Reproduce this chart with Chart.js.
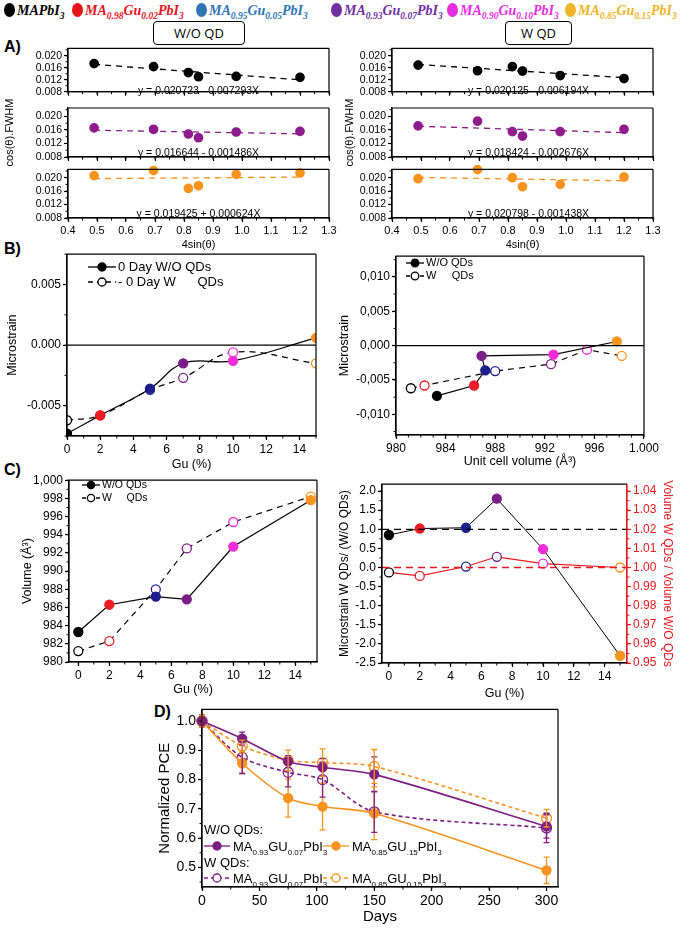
<!DOCTYPE html>
<html>
<head>
<meta charset="utf-8">
<script src="https://cdn.jsdelivr.net/npm/chart.js@4.4.0/dist/chart.umd.min.js"></script>
<style>
body { margin: 0; background: #fff; }
#page { position: relative; width: 685px; height: 929px; overflow: hidden; background: #fff; }
.lab { position: absolute; font: bold 16px 'Liberation Sans', Arial, sans-serif; line-height: 18px; }
.qd { position: absolute; border: 1.5px solid #000; border-radius: 4px; font: 13px 'Open Sans', sans-serif; text-align: center; line-height: 22px; }
.key { position: absolute; top: 3px; font: bold italic 14px 'Liberation Serif', serif; white-space: nowrap; }
.key i { display: inline-block; width: 11px; height: 14px; border-radius: 50%; vertical-align: -2px; margin-right: 2px; }
.key sub { font-size: 9.5px; }
</style>
</head>
<body>
<div id="page">
  <div class="key" style="left:4px;color:#000"><i style="background:#000"></i>MAPbI<sub>3</sub></div>
  <div class="key" style="left:72px;color:#e8141c"><i style="background:#e8141c"></i>MA<sub>0.98</sub>Gu<sub>0.02</sub>PbI<sub>3</sub></div>
  <div class="key" style="left:196px;color:#2e75b6"><i style="background:#2e75b6"></i>MA<sub>0.95</sub>Gu<sub>0.05</sub>PbI<sub>3</sub></div>
  <div class="key" style="left:331px;color:#7030a0"><i style="background:#7030a0"></i>MA<sub>0.93</sub>Gu<sub>0.07</sub>PbI<sub>3</sub></div>
  <div class="key" style="left:447px;color:#e62ee0"><i style="background:#e62ee0"></i>MA<sub>0.90</sub>Gu<sub>0.10</sub>PbI<sub>3</sub></div>
  <div class="key" style="left:565px;color:#f0b429"><i style="background:#f0b429"></i>MA<sub>0.85</sub>Gu<sub>0.15</sub>PbI<sub>3</sub></div>
  <div class="qd" style="left:153px;top:21px;width:90px;height:22px">W/O QD</div>
  <div class="qd" style="left:505px;top:21px;width:65px;height:22px">W QD</div>
  <div class="lab" style="left:4px;top:38px">A)</div>
  <div class="lab" style="left:4px;top:240px">B)</div>
  <div class="lab" style="left:4px;top:461px">C)</div>
  <div class="lab" style="left:154px;top:703px">D)</div>
</div>
<script>
// composition (Gu %) and the colour used for each sample
const gu = [0, 2, 5, 7, 10, 15];
const guColors = ['#000000', '#ec1c24', '#1c1f8a', '#7b1e87', '#f22bd9', '#f7941d'];

// A) Williamson-Hall plots
const whX = [0.49, 0.695, 0.815, 0.85, 0.98, 1.2];
const whWoMAPbI = [0.0174, 0.0164, 0.0144, 0.0130, 0.0131, 0.0128];
const whWoGu07 = [0.0166, 0.0162, 0.0148, 0.0137, 0.0154, 0.0156];
const whWoGu15 = [0.0206, 0.0221, 0.0168, 0.0176, 0.0210, 0.0214];
const whWMAPbI = [0.0169, 0.0150, 0.0164, 0.0149, 0.0134, 0.0124];
const whWGu07 = [0.0172, 0.0186, 0.0155, 0.0142, 0.0155, 0.0162];
const whWGu15 = [0.0197, 0.0224, 0.0200, 0.0173, 0.0180, 0.0202];
const fitX = [0.49, 1.2];
const fitWoMAPbI = [0.01715, 0.01197];
const fitWoGu07 = [0.01592, 0.01486];
const fitWoGu15 = [0.01973, 0.02017];
const fitWMAPbI = [0.01709, 0.01269];
const fitWGu07 = [0.01711, 0.01521];
const fitWGu15 = [0.02009, 0.01907];
const eqWo = ['y = 0.020723 - 0.007293X', 'y = 0.016644 - 0.001486X', 'y = 0.019425 + 0.000624X'];
const eqW = ['y = 0.020125 - 0.006194X', 'y = 0.018424 - 0.002676X', 'y = 0.020798 - 0.001438X'];
const whYTicks = [0.008, 0.012, 0.016, 0.020];
const whYLabels = ['0.008', '0.012', '0.016', '0.020'];
const whXTicks = [0.4, 0.5, 0.6, 0.7, 0.8, 0.9, 1.0, 1.1, 1.2, 1.3];
const whXLabels = ['0.4', '0.5', '0.6', '0.7', '0.8', '0.9', '1.0', '1.1', '1.2', '1.3'];

// B) microstrain and C) unit cell volume
const strainWo = [-0.0073, -0.0058, -0.0036, -0.0015, -0.0013, 0.0006];
const strainW = [-0.0062, -0.0058, -0.0037, -0.0027, -0.0006, -0.0015];
const volumeWo = [983.3, 986.3, 987.2, 986.9, 992.7, 997.8];
const volumeW = [981.2, 982.3, 988.0, 992.5, 995.4, 998.2];
const strainRatio = [0.85, 1.02, 1.04, 1.80, 0.48, -2.31];
const volumeRatio = [0.9974, 0.9956, 1.0005, 1.0056, 1.0020, 1.0000];
const guTicks = [0, 2, 4, 6, 8, 10, 12, 14];
const guLabels = ['0', '2', '4', '6', '8', '10', '12', '14'];
const bStrainTicks = [-0.005, 0, 0.005];
const bStrainLabels = ['-0.005', '0.000', '0.005'];
const bVolTicks = [980, 984, 988, 992, 996, 1000];
const bVolLabels = ['980', '984', '988', '992', '996', '1.000'];
const bStrain2Ticks = [-0.010, -0.005, 0, 0.005, 0.010];
const bStrain2Labels = ['-0,010', '-0,005', '0,000', '0,005', '0,010'];
const cVolTicks = [980, 982, 984, 986, 988, 990, 992, 994, 996, 998, 1000];
const cVolLabels = ['980', '982', '984', '986', '988', '990', '992', '994', '996', '998', '1,000'];
const cRatioTicks = [-2.5, -2.0, -1.5, -1.0, -0.5, 0, 0.5, 1.0, 1.5, 2.0];
const cRatioLabels = ['-2.5', '-2.0', '-1.5', '-1.0', '-0.5', '0.0', '0.5', '1.0', '1.5', '2.0'];
const cVRatioTicks = [0.95, 0.96, 0.97, 0.98, 0.99, 1.00, 1.01, 1.02, 1.03, 1.04];
const cVRatioLabels = ['0.95', '0.96', '0.97', '0.98', '0.99', '1.00', '1.01', '1.02', '1.03', '1.04'];

// D) stability
const days = [0, 35, 75, 105, 150, 300];
const pceWoGu07 = [1.0, 0.94, 0.862, 0.842, 0.818, 0.640];
const pceWoGu07Err = [0.02, 0.022, 0.02, 0.03, 0.06, 0.04];
const pceWoGu15 = [1.0, 0.856, 0.737, 0.708, 0.685, 0.490];
const pceWoGu15Err = [0.02, 0.035, 0.065, 0.08, 0.09, 0.045];
const pceWGu07 = [1.0, 0.876, 0.825, 0.800, 0.690, 0.635];
const pceWGu07Err = [0.02, 0.055, 0.05, 0.06, 0.07, 0.05];
const pceWGu15 = [1.0, 0.915, 0.866, 0.858, 0.845, 0.668];
const pceWGu15Err = [0.02, 0.02, 0.035, 0.047, 0.058, 0.03];
const dayTicks = [0, 50, 100, 150, 200, 250, 300];
const dayLabels = ['0', '50', '100', '150', '200', '250', '300'];
const pceTicks = [0.5, 0.6, 0.7, 0.8, 0.9, 1.0];
const pceLabels = ['0.5', '0.6', '0.7', '0.8', '0.9', '1.0'];

const FONT = "'Liberation Sans', Arial, sans-serif";
const RED = '#e8191e';
const page = document.getElementById('page');

function pts(xs, ys) {
    return xs.map((x, i) => ({ x: x, y: ys[i] }));
}

function axis(o) {
    const col = o.color || '#000';
    return {
        type: 'linear', position: o.pos, min: o.min, max: o.max, bounds: 'data',
        afterBuildTicks: s => { s.ticks = o.ticks.map(v => ({ value: v })); },
        afterFit: s => { if (o.pos === 'bottom') s.height = o.fit; else s.width = o.fit; },
        ticks: {
            display: !!o.labels, autoSkip: false, maxRotation: 0, padding: 2, color: col,
            font: { family: FONT, size: o.size || 11 },
            callback: (v, i) => o.labels ? o.labels[i] : ''
        },
        grid: { drawOnChartArea: false, drawTicks: true, tickLength: 4, color: col, tickColor: col, tickWidth: 1.2 },
        border: { display: true, color: col, width: 1.2 },
        title: {
            display: !!o.title, text: o.title || '', color: col, padding: 0,
            font: { family: FONT, size: o.titleSize || 12 }
        }
    };
}

function series(xs, ys, o) {
    return {
        data: pts(xs, ys), yAxisID: o.axis || 'y',
        borderColor: o.line || '#000', borderWidth: o.lw || 1.2, borderDash: o.dash || [],
        tension: o.tension || 0, showLine: o.showLine !== false,
        pointRadius: o.r === undefined ? 4 : o.r, pointBorderWidth: o.pbw || 1.3,
        pointBackgroundColor: o.hollow ? (o.hollowFill || '#fff') : o.colors,
        pointBorderColor: o.colors || o.line, errors: o.errors,
        clip: o.clip === undefined ? 8 : o.clip
    };
}

function drawRich(ctx, x, y, parts, size, color) {
    ctx.fillStyle = color || '#000';
    ctx.textAlign = 'left';
    ctx.textBaseline = 'alphabetic';
    parts.forEach(p => {
        const s = p[1] ? size * 0.62 : size;
        ctx.font = s + 'px ' + FONT;
        ctx.fillText(p[0], x, p[1] ? y + size * 0.3 : y);
        x += ctx.measureText(p[0]).width;
    });
}

function drawKey(ctx, x1, x2, y, color, dash, hollow, r) {
    ctx.save();
    ctx.strokeStyle = color;
    ctx.lineWidth = 1.3;
    ctx.setLineDash(dash || []);
    ctx.beginPath(); ctx.moveTo(x1, y); ctx.lineTo(x2, y); ctx.stroke();
    ctx.setLineDash([]);
    ctx.beginPath(); ctx.arc((x1 + x2) / 2, y, r, 0, Math.PI * 2);
    ctx.fillStyle = hollow ? '#fff' : color;
    ctx.fill(); ctx.stroke();
    ctx.restore();
}

function makeChart(plot, m, datasets, scales, minor, draw) {
    const pb = m.pb || 0;
    const ox = plot[0] - m.l, oy = plot[1] - m.t;
    const w = plot[2] - plot[0] + m.l + m.r, h = plot[3] - plot[1] + m.t + m.b + pb;
    const cv = document.createElement('canvas');
    cv.width = w; cv.height = h;
    cv.style.cssText = 'position:absolute;left:' + ox + 'px;top:' + oy + 'px;width:' + w + 'px;height:' + h + 'px';
    page.appendChild(cv);
    const hasY2 = !!scales.y2;
    return new Chart(cv, {
        type: 'line',
        data: { datasets: datasets },
        options: {
            responsive: false, animation: false, devicePixelRatio: 1,
            layout: { padding: { top: m.t, right: hasY2 ? 0 : m.r, bottom: pb, left: 0 } },
            plugins: { legend: { display: false }, tooltip: { enabled: false } },
            scales: scales
        },
        plugins: [{
            id: 'frameAndBars',
            afterDatasetsDraw(ch) {
                const ctx = ch.ctx;
                ch.data.datasets.forEach((ds, i) => {
                    if (!ds.errors) return;
                    const meta = ch.getDatasetMeta(i);
                    const ys = ch.scales[ds.yAxisID];
                    ctx.save();
                    ctx.strokeStyle = ds.borderColor;
                    ctx.lineWidth = 1.3;
                    meta.data.forEach((pt, j) => {
                        const v = ds.data[j].y, e = ds.errors[j];
                        const t = ys.getPixelForValue(v + e), b = ys.getPixelForValue(v - e);
                        ctx.beginPath();
                        ctx.moveTo(pt.x, t); ctx.lineTo(pt.x, b);
                        ctx.moveTo(pt.x - 3, t); ctx.lineTo(pt.x + 3, t);
                        ctx.moveTo(pt.x - 3, b); ctx.lineTo(pt.x + 3, b);
                        ctx.stroke();
                    });
                    ctx.restore();
                });
            },
            afterDraw(ch) {
                const ctx = ch.ctx, a = ch.chartArea;
                ctx.save();
                ctx.lineWidth = 1.2;
                ctx.strokeStyle = '#000';
                ctx.beginPath();
                ctx.moveTo(a.right, a.top); ctx.lineTo(a.left, a.top);
                ctx.lineTo(a.left, a.bottom); ctx.lineTo(a.right, a.bottom);
                if (!hasY2) ctx.lineTo(a.right, a.top);
                ctx.stroke();
                if (hasY2) {
                    ctx.strokeStyle = RED;
                    ctx.beginPath(); ctx.moveTo(a.right, a.top); ctx.lineTo(a.right, a.bottom); ctx.stroke();
                }
                // minor ticks
                const minorTicks = (scale, step, side, col) => {
                    if (!step) return;
                    ctx.strokeStyle = col;
                    ctx.lineWidth = 1;
                    ctx.beginPath();
                    for (let v = Math.ceil(scale.min / step - 1e-9) * step; v <= scale.max + 1e-9; v += step) {
                        const p = scale.getPixelForValue(v);
                        if (side === 'b') { ctx.moveTo(p, a.bottom); ctx.lineTo(p, a.bottom + 2.5); }
                        if (side === 'l') { ctx.moveTo(a.left, p); ctx.lineTo(a.left - 2.5, p); }
                        if (side === 'r') { ctx.moveTo(a.right, p); ctx.lineTo(a.right + 2.5, p); }
                    }
                    ctx.stroke();
                };
                minorTicks(ch.scales.x, minor.x, 'b', '#000');
                minorTicks(ch.scales.y, minor.y, 'l', '#000');
                if (hasY2) minorTicks(ch.scales.y2, minor.y2, 'r', RED);
                ctx.restore();
                if (draw) {
                    ctx.save();
                    ctx.translate(-ox, -oy);
                    draw(ctx, ch);
                    ctx.restore();
                }
            }
        }]
    });
}

// ---------- A) ----------
const aRows = [
    { wo: whWoMAPbI, w: whWMAPbI, fwo: fitWoMAPbI, fw: fitWMAPbI, col: '#000000', top: 48, bot: 95 },
    { wo: whWoGu07, w: whWGu07, fwo: fitWoGu07, fw: fitWGu07, col: '#8e1c8c', top: 108, bot: 157 },
    { wo: whWoGu15, w: whWGu15, fwo: fitWoGu15, fw: fitWGu15, col: '#f7941d', top: 169, bot: 218 }
];
aRows.forEach((row, i) => {
    const last = i === 2, mid = i === 1;
    [[68, 329, 65, row.wo, row.fwo, eqWo[i], 0], [392, 653, 49, row.w, row.fw, eqW[i], 6]].forEach(p => {
        const mt = mid ? 40 : 8;
        makeChart([p[0], row.top, p[1], row.bot], { t: mt, r: 16, b: last ? 34 : 5, l: p[2], pb: mid ? 36 : 0 }, [
            series(fitX, p[4], { line: row.col, dash: [6, 5], r: 0, lw: 1.3 }),
            series(whX, p[3], { showLine: false, colors: row.col, r: 4.2 })
        ], {
            x: axis({ pos: 'bottom', min: 0.4, max: 1.3, ticks: whXTicks, labels: last ? whXLabels : null,
                      size: 11, fit: last ? 34 : 5, title: last ? '4sin(\u03b8)' : null, titleSize: 11 }),
            y: axis({ pos: 'left', min: 0.008, max: 0.0225, ticks: whYTicks, labels: whYLabels, size: 10.5,
                      fit: p[2], title: mid ? 'cos(\u03b8).FWHM' : null, titleSize: 11 })
        }, { x: 0.05, y: 0.002 }, (ctx, ch) => {
            ctx.font = '10.5px ' + FONT;
            ctx.fillStyle = '#000';
            ctx.textAlign = 'center';
            ctx.textBaseline = 'alphabetic';
            ctx.fillText(p[5], (p[0] + p[1]) / 2 + p[6], row.bot - 1);
        });
    });
});

// ---------- B) left ----------
makeChart([67, 253, 316, 436], { t: 8, r: 14, b: 36, l: 62 }, [
    series([0, 15], [0, 0], { r: 0, lw: 1.2 }),
    series(gu, strainWo, { colors: guColors, tension: 0.4, r: 4.5, clip: 0 }),
    series(gu, strainW, { colors: guColors, hollow: true, dash: [6, 5], tension: 0.4, r: 4.5, clip: 0 })
], {
    x: axis({ pos: 'bottom', min: 0, max: 15, ticks: guTicks, labels: guLabels, size: 12, fit: 36, title: 'Gu (%)', titleSize: 12.5 }),
    y: axis({ pos: 'left', min: -0.0075, max: 0.0075, ticks: bStrainTicks, labels: bStrainLabels, size: 12, fit: 62, title: 'Microstrain', titleSize: 12.5 })
}, { x: 1, y: 0.0025 }, ctx => {
    drawKey(ctx, 88, 116, 267, '#000', [], false, 4);
    drawKey(ctx, 88, 116, 282, '#000', [5, 4], true, 4);
    ctx.font = '13px ' + FONT; ctx.fillStyle = '#000'; ctx.textBaseline = 'middle'; ctx.textAlign = 'left';
    ctx.fillText('0 Day W/O QDs', 118, 267);
    ctx.fillText('- 0 Day W      QDs', 118, 282);
});

// ---------- B) right ----------
makeChart([396, 255, 645, 435], { t: 8, r: 16, b: 34, l: 59 }, [
    series([980, 1000], [0, 0], { r: 0, lw: 1.2 }),
    series(volumeWo, strainWo, { colors: guColors, r: 4.5 }),
    series(volumeW, strainW, { colors: guColors, hollow: true, dash: [6, 5], r: 4.5 })
], {
    x: axis({ pos: 'bottom', min: 980, max: 1000, ticks: bVolTicks, labels: bVolLabels, size: 12, fit: 34, title: 'Unit cell volume (\u00c5\u00b3)', titleSize: 12.5 }),
    y: axis({ pos: 'left', min: -0.013, max: 0.013, ticks: bStrain2Ticks, labels: bStrain2Labels, size: 12, fit: 59, title: 'Microstrain', titleSize: 12.5 })
}, { x: 1, y: 0.0025 }, ctx => {
    drawKey(ctx, 406, 424, 263, '#000', [], false, 3.8);
    drawKey(ctx, 406, 424, 276, '#000', [4, 3], true, 3.8);
    ctx.font = '11px ' + FONT; ctx.fillStyle = '#000'; ctx.textBaseline = 'middle'; ctx.textAlign = 'left';
    ctx.fillText('W/O QDs', 426, 263);
    ctx.fillText('W     QDs', 426, 276);
});

// ---------- C) left ----------
makeChart([69, 479, 317, 662], { t: 8, r: 14, b: 35, l: 49 }, [
    series(gu, volumeWo, { colors: guColors, r: 4.5 }),
    series(gu, volumeW, { colors: guColors, hollow: true, dash: [6, 5], r: 4.5 })
], {
    x: axis({ pos: 'bottom', min: -0.6, max: 15.4, ticks: guTicks, labels: guLabels, size: 12, fit: 35, title: 'Gu (%)', titleSize: 12.5 }),
    y: axis({ pos: 'left', min: 980, max: 1000, ticks: cVolTicks, labels: cVolLabels, size: 12, fit: 49, title: 'Volume (\u00c5\u00b3)', titleSize: 12.5 })
}, { x: 1, y: 1 }, ctx => {
    drawKey(ctx, 82, 100, 485, '#000', [], false, 3.6);
    drawKey(ctx, 82, 100, 498, '#000', [4, 3], true, 3.6);
    ctx.font = '10.5px ' + FONT; ctx.fillStyle = '#000'; ctx.textBaseline = 'middle'; ctx.textAlign = 'left';
    ctx.fillText('W/O QDs', 102, 485);
    ctx.fillText('W     QDs', 102, 498);
});

// ---------- C) right ----------
makeChart([382, 483, 627, 663], { t: 8, r: 48, b: 38, l: 45 }, [
    series([-0.45, 15.45], [1, 1], { r: 0, dash: [7, 5], lw: 1.3 }),
    series([-0.45, 15.45], [1, 1], { r: 0, dash: [7, 5], lw: 1.3, line: RED, axis: 'y2' }),
    series(gu, strainRatio, { colors: guColors, r: 4.5, lw: 1 }),
    series(gu, volumeRatio, { colors: guColors, hollow: true, line: RED, r: 4.5, axis: 'y2' })
], {
    x: axis({ pos: 'bottom', min: -0.45, max: 15.45, ticks: guTicks, labels: guLabels, size: 12, fit: 38, title: 'Gu (%)', titleSize: 12.5 }),
    y: axis({ pos: 'left', min: -2.5, max: 2.18, ticks: cRatioTicks, labels: cRatioLabels, size: 12, fit: 45, title: 'Microstrain W QDs/ (W/O QDs)', titleSize: 12 }),
    y2: axis({ pos: 'right', min: 0.95, max: 1.0436, ticks: cVRatioTicks, labels: cVRatioLabels, size: 12, fit: 48, title: 'Volume W QDs / Volume W/O QDs', titleSize: 12, color: RED })
}, { x: 1, y: 0.25, y2: 0.005 });

// ---------- D) ----------
const PUR = '#7d1e82', ORA = '#f7931e';
const gu07 = [['MA', 0], ['0.93', 1], ['GU', 0], ['0.07', 1], ['PbI', 0], ['3', 1]];
makeChart([202, 707, 558, 887], { t: 8, r: 16, b: 39, l: 46 }, [
    series(days, pceWoGu07, { line: PUR, colors: PUR, tension: 0.3, r: 4.5, lw: 1.6, errors: pceWoGu07Err }),
    series(days, pceWoGu15, { line: ORA, colors: ORA, tension: 0.3, r: 4.5, lw: 1.6, errors: pceWoGu15Err }),
    series(days, pceWGu07, { line: PUR, colors: PUR, hollow: true, hollowFill: 'rgba(255,255,255,0)', dash: [4, 3], tension: 0.3, r: 5, lw: 1.6, errors: pceWGu07Err }),
    series(days, pceWGu15, { line: ORA, colors: ORA, hollow: true, hollowFill: 'rgba(255,255,255,0)', dash: [4, 3], tension: 0.3, r: 5, lw: 1.6, errors: pceWGu15Err })
], {
    x: axis({ pos: 'bottom', min: 0, max: 310, ticks: dayTicks, labels: dayLabels, size: 14, fit: 39, title: 'Days', titleSize: 15 }),
    y: axis({ pos: 'left', min: 0.433, max: 1.04, ticks: pceTicks, labels: pceLabels, size: 14, fit: 46, title: 'Normalized PCE', titleSize: 15 })
}, { x: 25, y: 0.05 }, ctx => {
    ctx.font = '13px ' + FONT; ctx.fillStyle = '#000'; ctx.textBaseline = 'middle'; ctx.textAlign = 'left';
    ctx.fillText('W/O QDs:', 204, 830);
    ctx.fillText('W QDs:', 204, 863);
    drawKey(ctx, 204, 230, 846, PUR, [], false, 4);
    drawKey(ctx, 323, 349, 846, ORA, [], false, 4);
    drawKey(ctx, 204, 230, 878, PUR, [4, 3], true, 4);
    drawKey(ctx, 323, 349, 878, ORA, [4, 3], true, 4);
    drawRich(ctx, 233, 851, gu07, 13);
    drawRich(ctx, 352, 851, [['MA', 0], ['0.85', 1], ['GU', 0], ['.15', 1], ['PbI', 0], ['3', 1]], 13);
    drawRich(ctx, 233, 883, gu07, 13);
    drawRich(ctx, 352, 883, [['MA', 0], ['0.85', 1], ['GU', 0], ['0.15', 1], ['PbI', 0], ['3', 1]], 13);
});
</script>
</body>
</html>
